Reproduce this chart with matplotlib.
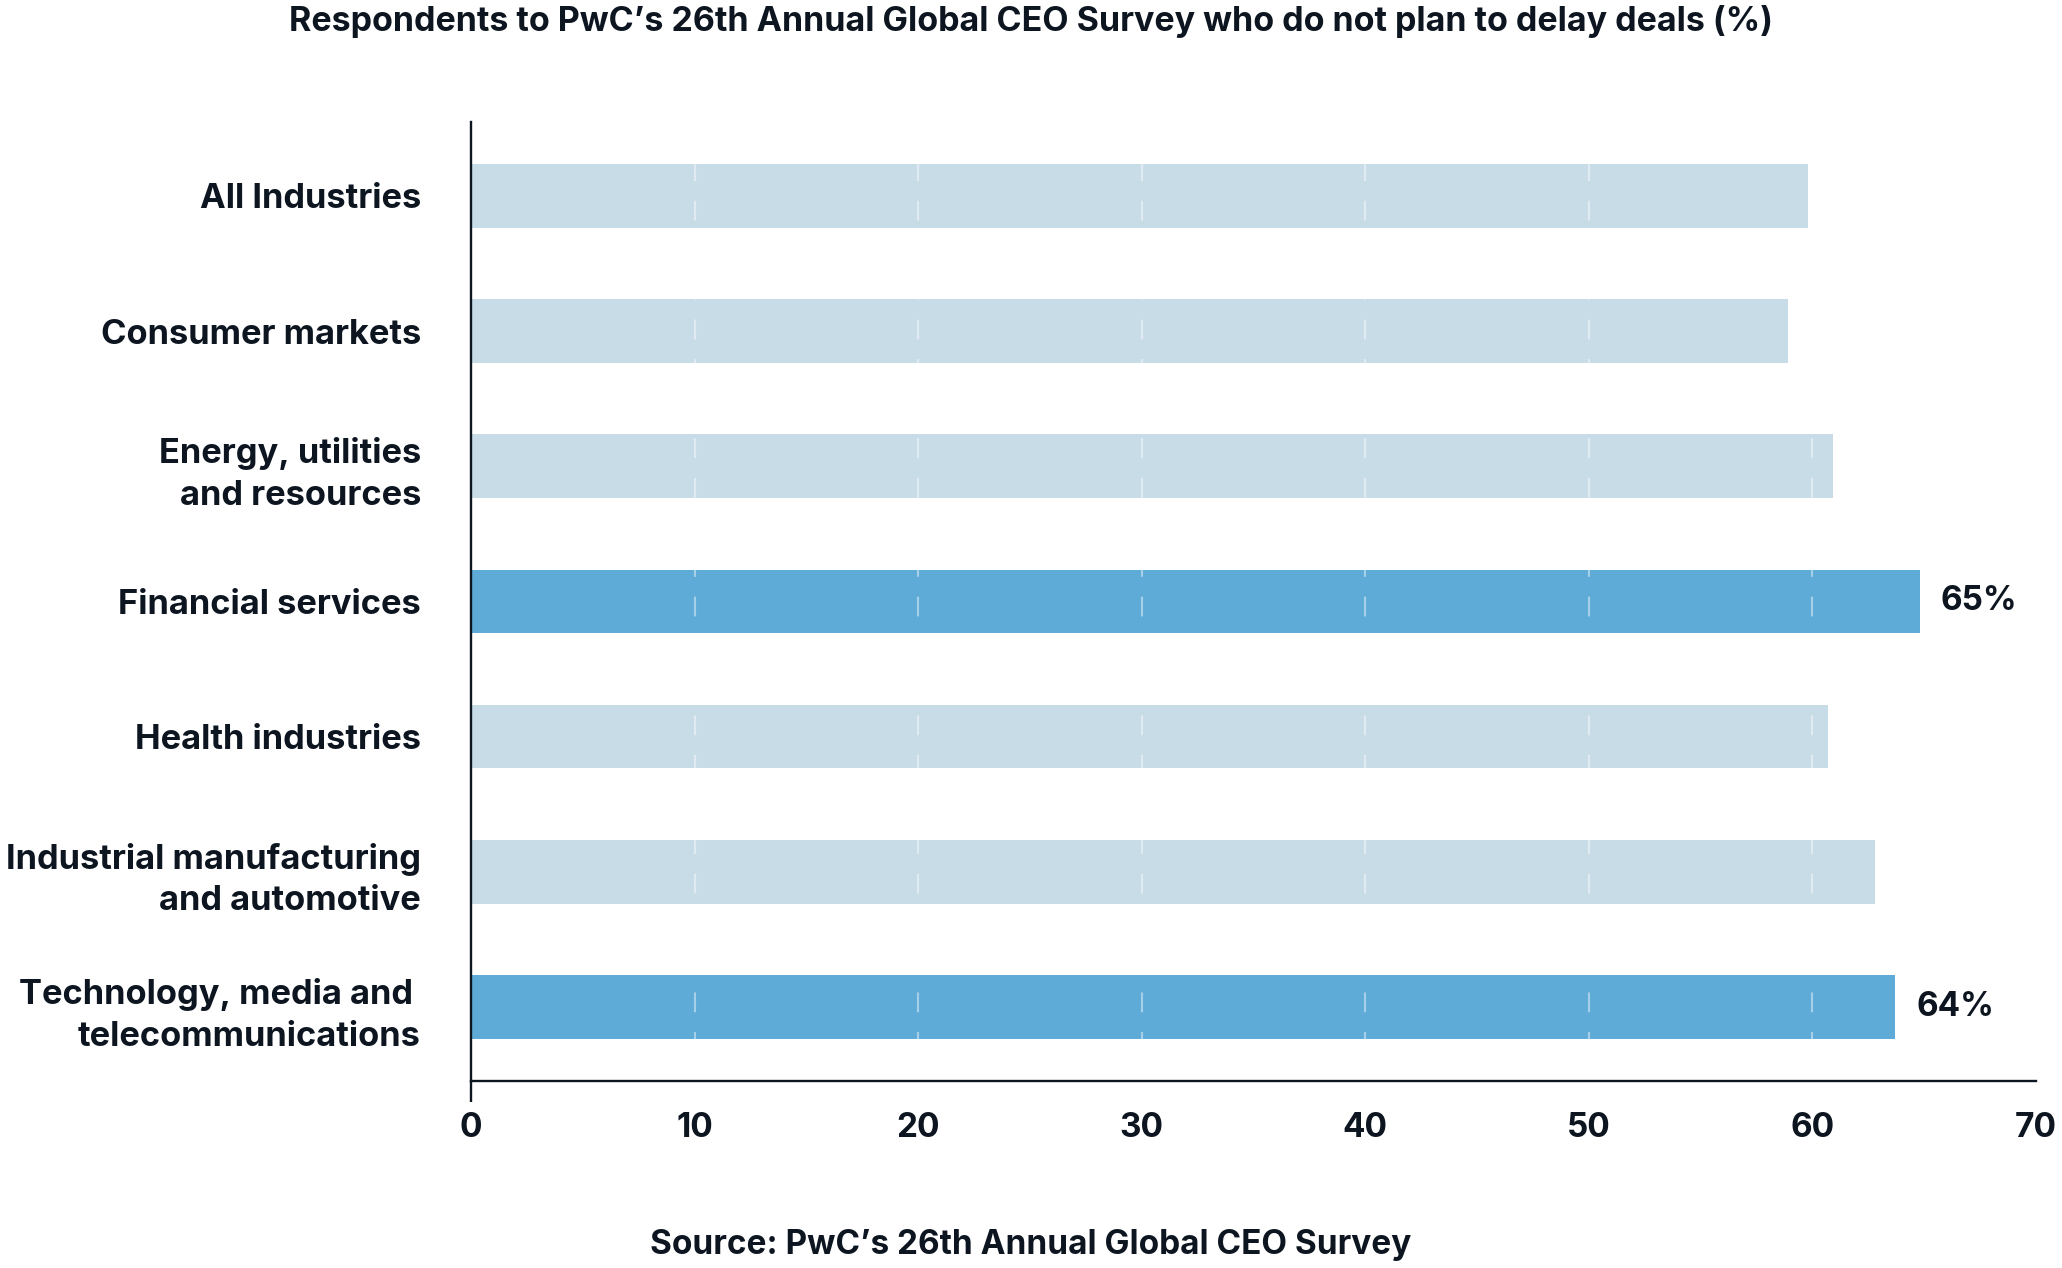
import matplotlib
matplotlib.use("Agg")
import matplotlib.pyplot as plt

categories = ["All Industries", "Consumer markets", "Energy, utilities\nand resources",
              "Financial services", "Health industries",
              "Industrial manufacturing\nand automotive",
              "Technology, media and \ntelecommunications"]
values = [59.8, 58.9, 60.9, 64.8, 60.7, 62.8, 63.7]
highlight = [False, False, False, True, False, False, True]
value_labels = ["", "", "", "65%", "", "", "64%"]
xticks = [0, 10, 20, 30, 40, 50, 60, 70]

title = "Respondents to PwC\u2019s 26th Annual Global CEO Survey who do not plan to delay deals (%)"
source = "Source: PwC\u2019s 26th Annual Global CEO Survey"

ink = "#0d1620"
light = "#c8dce7"
dark = "#5eabd8"

plt.rcParams["font.family"] = ["Inter", "DejaVu Sans"]
plt.rcParams["font.weight"] = "bold"

fig = plt.figure(figsize=(20.62, 12.68), dpi=100)
ax = fig.add_axes([0.2284, 0.1475, 0.7590, 0.7563])

ypos = list(range(len(categories)))
colors = [dark if h else light for h in highlight]
ax.barh(ypos, values, height=0.47, color=colors, zorder=1)

for y, v, lab in zip(ypos, values, value_labels):
    if lab:
        ax.text(v + 0.95, y, lab, va="center", ha="left", fontsize=24,
                fontweight="bold", color=ink, zorder=3)

ax.set_xlim(0, 70)
ax.set_ylim(len(categories) - 1 + 0.546, -0.546)
ax.set_xticks(xticks)
ax.set_xticklabels([str(t) for t in xticks], fontsize=24, fontweight="bold", color=ink)
ax.set_yticks(ypos)
ax.set_yticklabels(categories, fontsize=24.8, fontweight="bold", color=ink,
                   linespacing=1.38)
ax.tick_params(axis="x", length=0, pad=22)
ax.tick_params(axis="y", length=0, pad=36)

# grid lines only visible where they cross the bars
for t in xticks[1:-1]:
    ax.axvline(t, color="white", alpha=0.45, lw=1.5, zorder=2,
               linestyle=(5, (9.5, 9.5)))

for s in ["top", "right"]:
    ax.spines[s].set_visible(False)
for s in ["left", "bottom"]:
    ax.spines[s].set_color(ink)
    ax.spines[s].set_linewidth(1.7)
    ax.spines[s].set_zorder(4)
# left spine extends a little below the x axis
ax.plot([0, 0], [len(categories) - 1 + 0.546, len(categories) - 1 + 0.546 + 0.155],
        color=ink, lw=1.7, clip_on=False, solid_capstyle="butt", zorder=4)

fig.text(0.5, 1 - 22 / 1268, title, ha="center", va="center", fontsize=24.5,
         fontweight="bold", color=ink)
fig.text(0.5, 1 - 1245 / 1268, source, ha="center", va="center", fontsize=24,
         fontweight="bold", color=ink)

fig.savefig("out.png", dpi=100, facecolor="white")
